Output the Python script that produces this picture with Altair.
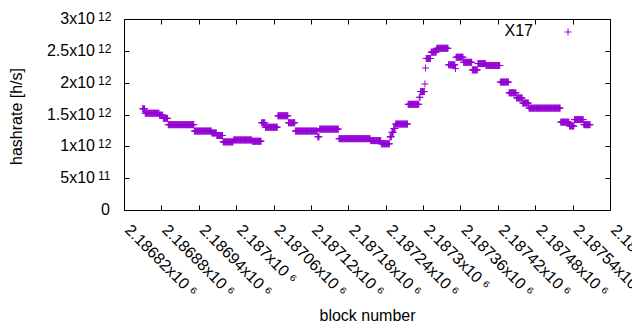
import altair as alt
import pandas as pd

# ---- data ----
# runs of consecutive blocks sharing the same hashrate estimate (value in 1e12 h/s)
run_start = [2186850, 2186854, 2186877, 2186883, 2186891, 2186933, 2186961, 2186969,
             2186979, 2186996, 2187026, 2187041, 2187047, 2187067, 2187084, 2187095,
             2187131, 2187134, 2187165, 2187216, 2187233, 2187247, 2187250, 2187253,
             2187256, 2187276, 2187294, 2187296, 2187303, 2187304, 2187305, 2187313,
             2187322, 2187341, 2187352, 2187353, 2187365, 2187379, 2187388, 2187401,
             2187424, 2187438, 2187450, 2187460, 2187470, 2187521, 2187535, 2187543,
             2187558]
run_end = [2186853, 2186876, 2186882, 2186890, 2186932, 2186960, 2186968, 2186978,
           2186995, 2187025, 2187040, 2187046, 2187066, 2187083, 2187094, 2187130,
           2187133, 2187164, 2187215, 2187232, 2187246, 2187249, 2187252, 2187255,
           2187275, 2187293, 2187295, 2187302, 2187303, 2187304, 2187312, 2187321,
           2187340, 2187351, 2187352, 2187364, 2187378, 2187387, 2187400, 2187423,
           2187437, 2187449, 2187459, 2187469, 2187520, 2187534, 2187542, 2187557,
           2187568]
run_value = [1.59, 1.52, 1.49, 1.44, 1.34, 1.24, 1.21, 1.17,
             1.07, 1.10, 1.08, 1.37, 1.30, 1.48, 1.37, 1.24,
             1.15, 1.27, 1.12, 1.09, 1.04, 1.15, 1.22, 1.28,
             1.35, 1.66, 1.77, 1.86, 1.98, 2.23, 2.38, 2.48,
             2.54, 2.28, 2.22, 2.40, 2.32, 2.20, 2.30, 2.27,
             2.01, 1.84, 1.76, 1.68, 1.60, 1.38, 1.32, 1.42,
             1.34]

series_names = ["X17"]

x_tick_values = [2186820, 2186880, 2186940, 2187000, 2187060, 2187120, 2187180,
                 2187240, 2187300, 2187360, 2187420, 2187480, 2187540, 2187600]
x_tick_labels = ["2.18682x10 \u2076", "2.18688x10 \u2076", "2.18694x10 \u2076",
                 "2.187x10 \u2076", "2.18706x10 \u2076", "2.18712x10 \u2076",
                 "2.18718x10 \u2076", "2.18724x10 \u2076", "2.1873x10 \u2076",
                 "2.18736x10 \u2076", "2.18742x10 \u2076", "2.18748x10 \u2076",
                 "2.18754x10 \u2076", "2.1876x10 \u2076"]
y_tick_values = [0, 5e11, 1e12, 1.5e12, 2e12, 2.5e12, 3e12]
y_tick_mantissa = ["0", "5x10", "1x10", "1.5x10", "2x10", "2.5x10", "3x10"]
y_tick_exponent = ["", "11", "12", "12", "12", "12", "12"]

# ---- tables ----
blocks, rates = [], []
for s, e, v in zip(run_start, run_end, run_value):
    for b in range(s, e + 1):
        blocks.append(b)
        rates.append(v * 1e12)
df = pd.DataFrame({"block": blocks, "hashrate": rates})
leg = pd.DataFrame({"series": series_names})
ydf = pd.DataFrame({"value": y_tick_values, "mantissa": y_tick_mantissa,
                    "exponent": y_tick_exponent})

W, H = 486, 191
FONT = "Liberation Sans"
COLOR = "#9400D3"
PLUS = "M-1,0L1,0M0,-1L0,1"


def js_list(items):
    return "[" + ",".join("'" + str(i) + "'" for i in items) + "]"


x_expr = js_list(x_tick_labels) + "[indexof(" + "[" + ",".join(str(v) for v in x_tick_values) + "], datum.value)]"

x_scale = alt.Scale(domain=[x_tick_values[0], x_tick_values[-1]], nice=False, zero=False)
y_scale = alt.Scale(domain=[y_tick_values[0], y_tick_values[-1]], nice=False)

base = alt.Chart(df)

points = base.mark_point(shape=PLUS, filled=False, size=49, strokeWidth=1,
                         color=COLOR, opacity=1).encode(
    x=alt.X("block:Q", scale=x_scale,
            axis=alt.Axis(values=x_tick_values, labelExpr=x_expr, labelAngle=45,
                          labelAlign="left", labelBaseline="middle", labelPadding=17,
                          labelOffset=3,
                          labelFlush=False, labelOverlap=False, labelBound=False,
                          ticks=False, domain=False, grid=False,
                          title="block number", titleY=110,
                          titleBaseline="alphabetic")),
    y=alt.Y("hashrate:Q", scale=y_scale,
            axis=alt.Axis(values=y_tick_values, labels=False,
                          ticks=False, domain=False, grid=False,
                          title="hashrate [h/s]", titleX=-100, titleY=97)),
)

ticks_in_a = base.mark_point(opacity=0).encode(
    x=alt.X("block:Q", scale=x_scale, title=None,
            axis=alt.Axis(orient="top", offset=-H, values=x_tick_values, labels=False,
                          domain=False, grid=False, tickSize=5)),
    y=alt.Y("hashrate:Q", scale=y_scale, title=None,
            axis=alt.Axis(orient="right", offset=-W, values=y_tick_values, labels=False,
                          domain=False, grid=False, tickSize=5)),
)

ticks_in_b = base.mark_point(opacity=0).encode(
    x=alt.X("block:Q", scale=x_scale, title=None,
            axis=alt.Axis(orient="bottom", offset=-H, values=x_tick_values, labels=False,
                          domain=False, grid=False, tickSize=5)),
    y=alt.Y("hashrate:Q", scale=y_scale, title=None,
            axis=alt.Axis(orient="left", offset=-W, values=y_tick_values, labels=False,
                          domain=False, grid=False, tickSize=5)),
)

# y tick labels: mantissa "Nx10" with a raised, smaller exponent
ybase = alt.Chart(ydf)
ylab_main = ybase.transform_filter("datum.exponent != ''").mark_text(
    align="right", baseline="middle", fontSize=16, font=FONT, color="black").encode(
    y=alt.Y("value:Q", scale=y_scale, axis=None), text="mantissa:N", x=alt.value(-29))
ylab_zero = ybase.transform_filter("datum.exponent == ''").mark_text(
    align="right", baseline="middle", fontSize=16, font=FONT, color="black").encode(
    y=alt.Y("value:Q", scale=y_scale, axis=None), text="mantissa:N", x=alt.value(-14))
ylab_exp = ybase.transform_filter("datum.exponent != ''").mark_text(
    align="left", baseline="alphabetic", fontSize=12, dy=2, font=FONT, color="black").encode(
    y=alt.Y("value:Q", scale=y_scale, axis=None), text="exponent:N", x=alt.value(-26))

leg_text = alt.Chart(leg).mark_text(align="right", baseline="middle", fontSize=16,
                                    font=FONT, color="black").encode(
    text="series:N", x=alt.value(409), y=alt.value(12))
leg_sym = alt.Chart(leg).mark_point(shape=PLUS, filled=False, size=49, strokeWidth=1,
                                    color=COLOR, opacity=1).encode(
    x=alt.value(444), y=alt.value(13))

chart = alt.layer(points, ticks_in_a, ticks_in_b, ylab_main, ylab_zero, ylab_exp,
                  leg_text, leg_sym).resolve_axis(
    x="independent", y="independent"
).properties(
    width=W, height=H,
    autosize=alt.AutoSizeParams(type="none"),
    padding={"left": 116, "top": 11, "right": 22, "bottom": 112},
).configure_view(
    stroke="black", strokeWidth=1
).configure_axis(
    labelFont=FONT, titleFont=FONT, labelFontSize=16, titleFontSize=16,
    labelColor="black", titleColor="black", tickColor="black",
    titleFontWeight="normal",
)

chart.save("out.html", embed_options={"renderer": "svg", "actions": False})
